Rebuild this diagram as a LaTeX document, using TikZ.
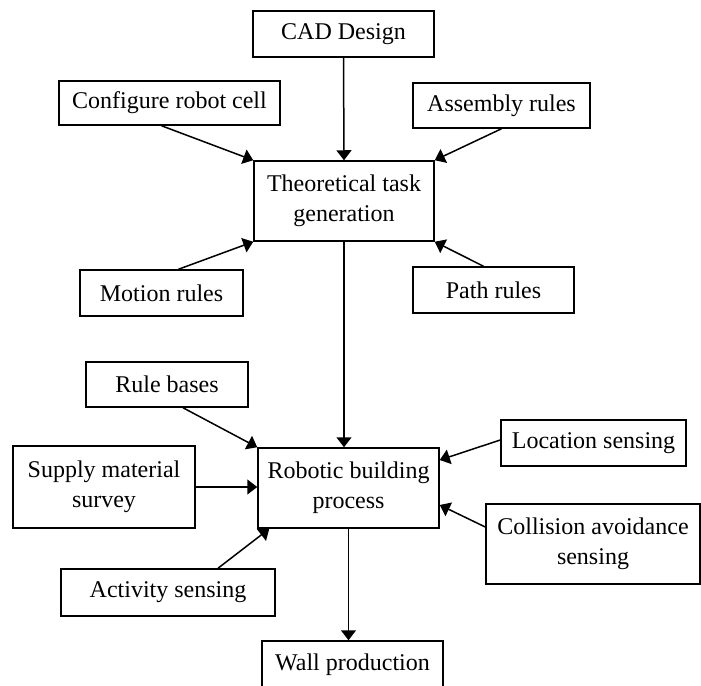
\documentclass[tikz,border=0pt]{standalone}
\usepackage{fontspec}
\setmainfont{Liberation Serif}
\usetikzlibrary{arrows.meta}
\tikzset{box/.style={draw,line width=1.5pt,align=center,inner sep=0pt,font=\fontsize{24}{30}\selectfont},arr/.style={-{Triangle[length=10pt,width=15pt]},line width=1.5pt}}

\begin{document}
\begin{tikzpicture}[x=1pt,y=-1pt]
\useasboundingbox(0,0)rectangle(701,685);
\node[box,minimum width=181pt,minimum height=46pt](cad)at(343.5,34){CAD Design};
\node[box,minimum width=221pt,minimum height=44pt](cfg)at(169.5,103){Configure robot cell};
\node[box,minimum width=177pt,minimum height=45pt](asm)at(501.5,105.5){Assembly rules};
\node[box,minimum width=180pt,minimum height=80pt](theo)at(344,201){Theoretical task\\generation};
\node[box,minimum width=163pt,minimum height=46pt](mot)at(161.5,293){Motion rules};
\node[box,minimum width=161pt,minimum height=46pt](pathr)at(493.5,290){Path rules};
\node[box,minimum width=162pt,minimum height=45pt](rule)at(167,384.5){Rule bases};
\node[box,minimum width=185pt,minimum height=46pt](loc)at(593.5,443){Location sensing};
\node[box,minimum width=182pt,minimum height=82pt](sup)at(104,487){Supply material\\survey};
\node[box,minimum width=181pt,minimum height=80pt](rob)at(348.5,488){Robotic building\\process};
\node[box,minimum width=214pt,minimum height=80pt](col)at(593,544){Collision avoidance\\sensing};
\node[box,minimum width=214pt,minimum height=47pt](act)at(168,592.5){Activity sensing};
\node[box,minimum width=181pt,minimum height=48pt](wall)at(352.5,665){Wall production};
\foreach\a/\b in{cad.south/theo.north,asm.south/theo.north east}\draw[arr](\a)--(\b);
\draw[arr]([xshift=-8pt]cfg.south)--(theo.north west);
\draw[arr]([xshift=17pt]mot.north)--(theo.south west);
\draw[arr]([xshift=-10pt]pathr.north)--(theo.south east);
\draw[arr](theo.south)--(theo.south|-rob.north);
\draw[arr]([xshift=16pt]rule.south)--(rob.north west);
\draw[arr](sup.east)--(sup.east-|rob.west);
\draw[arr]([xshift=50pt]act.north)--([xshift=12pt]rob.south west);
\draw[arr]([yshift=3pt]loc.west)--([yshift=28pt]rob.east);
\draw[arr]([yshift=17pt]col.west)--([yshift=-17pt]rob.east);
\draw[arr](rob.south)--(rob.south|-wall.north);
\end{tikzpicture}
\end{document}
